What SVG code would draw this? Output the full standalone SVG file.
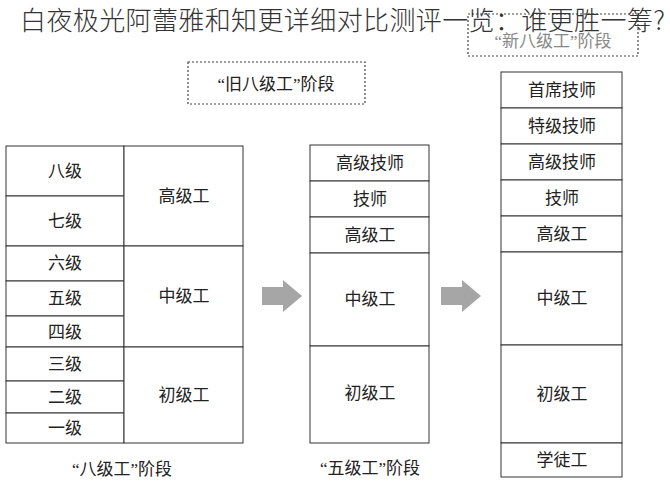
<svg xmlns="http://www.w3.org/2000/svg" width="670" height="500" viewBox="0 0 670 500">
<style>
.c{fill:#fff;stroke:#333;stroke-width:1}
.t{font-family:"Liberation Serif","Noto Sans CJK SC",serif;font-size:17px;fill:#222;text-anchor:middle;dominant-baseline:central}
.d{fill:#fff;stroke:#444;stroke-width:1.2;stroke-dasharray:2,2}
.a{fill:#a6a6a6}
</style>
<rect width="670" height="500" fill="#fff"/>
<g id="newlabel"><rect class="d" x="468" y="14" width="170" height="42"/><text class="t" x="553" y="41" style="fill:#888">“新八级工”阶段</text></g>
<g id="oldlabel"><rect class="d" x="188" y="62" width="177" height="42"/><text class="t" x="276" y="84">“旧八级工”阶段</text></g>
<g id="oldtable">
<rect class="c" x="6" y="146" width="118" height="50"/><text class="t" x="65" y="171">八级</text>
<rect class="c" x="6" y="196" width="118" height="50"/><text class="t" x="65" y="221">七级</text>
<rect class="c" x="6" y="246" width="118" height="35"/><text class="t" x="65" y="263">六级</text>
<rect class="c" x="6" y="281" width="118" height="35"/><text class="t" x="65" y="298">五级</text>
<rect class="c" x="6" y="316" width="118" height="31"/><text class="t" x="65" y="332">四级</text>
<rect class="c" x="6" y="347" width="118" height="34"/><text class="t" x="65" y="364">三级</text>
<rect class="c" x="6" y="381" width="118" height="32"/><text class="t" x="65" y="397">二级</text>
<rect class="c" x="6" y="413" width="118" height="30"/><text class="t" x="65" y="428">一级</text>
<rect class="c" x="124" y="146" width="119" height="100"/><text class="t" x="184" y="196">高级工</text>
<rect class="c" x="124" y="246" width="119" height="101"/><text class="t" x="184" y="296">中级工</text>
<rect class="c" x="124" y="347" width="119" height="96"/><text class="t" x="184" y="395">初级工</text>
<text class="t" x="122" y="469">“八级工”阶段</text>
</g>
<g id="midtable">
<rect class="c" x="310" y="145" width="119" height="36"/><text class="t" x="370" y="163">高级技师</text>
<rect class="c" x="310" y="181" width="119" height="36"/><text class="t" x="370" y="199">技师</text>
<rect class="c" x="310" y="217" width="119" height="36"/><text class="t" x="370" y="235">高级工</text>
<rect class="c" x="310" y="253" width="119" height="93"/><text class="t" x="370" y="299">中级工</text>
<rect class="c" x="310" y="346" width="119" height="97"/><text class="t" x="370" y="393">初级工</text>
<text class="t" x="370" y="468">“五级工”阶段</text>
</g>
<g id="newtable">
<rect class="c" x="501" y="72" width="121" height="36"/><text class="t" x="562" y="90">首席技师</text>
<rect class="c" x="501" y="108" width="121" height="36"/><text class="t" x="562" y="126">特级技师</text>
<rect class="c" x="501" y="144" width="121" height="36"/><text class="t" x="562" y="162">高级技师</text>
<rect class="c" x="501" y="180" width="121" height="36"/><text class="t" x="562" y="198">技师</text>
<rect class="c" x="501" y="216" width="121" height="36"/><text class="t" x="562" y="234">高级工</text>
<rect class="c" x="501" y="252" width="121" height="93"/><text class="t" x="562" y="298">中级工</text>
<rect class="c" x="501" y="345" width="121" height="98"/><text class="t" x="562" y="394">初级工</text>
<rect class="c" x="501" y="443" width="121" height="34"/><text class="t" x="562" y="460">学徒工</text>
</g>
<g id="connectors">
<polygon class="a" points="262,287 283,287 283,280 302,296 283,312 283,305 262,305"/>
<polygon class="a" points="441,287 462,287 462,280 481,296 462,312 462,305 441,305"/>
</g>
<text x="20" y="30" font-family="'Noto Sans CJK SC',sans-serif" font-size="26" font-weight="300" fill="#333" textLength="645">白夜极光阿蕾雅和知更详细对比测评一览：谁更胜一筹?</text>
</svg>
